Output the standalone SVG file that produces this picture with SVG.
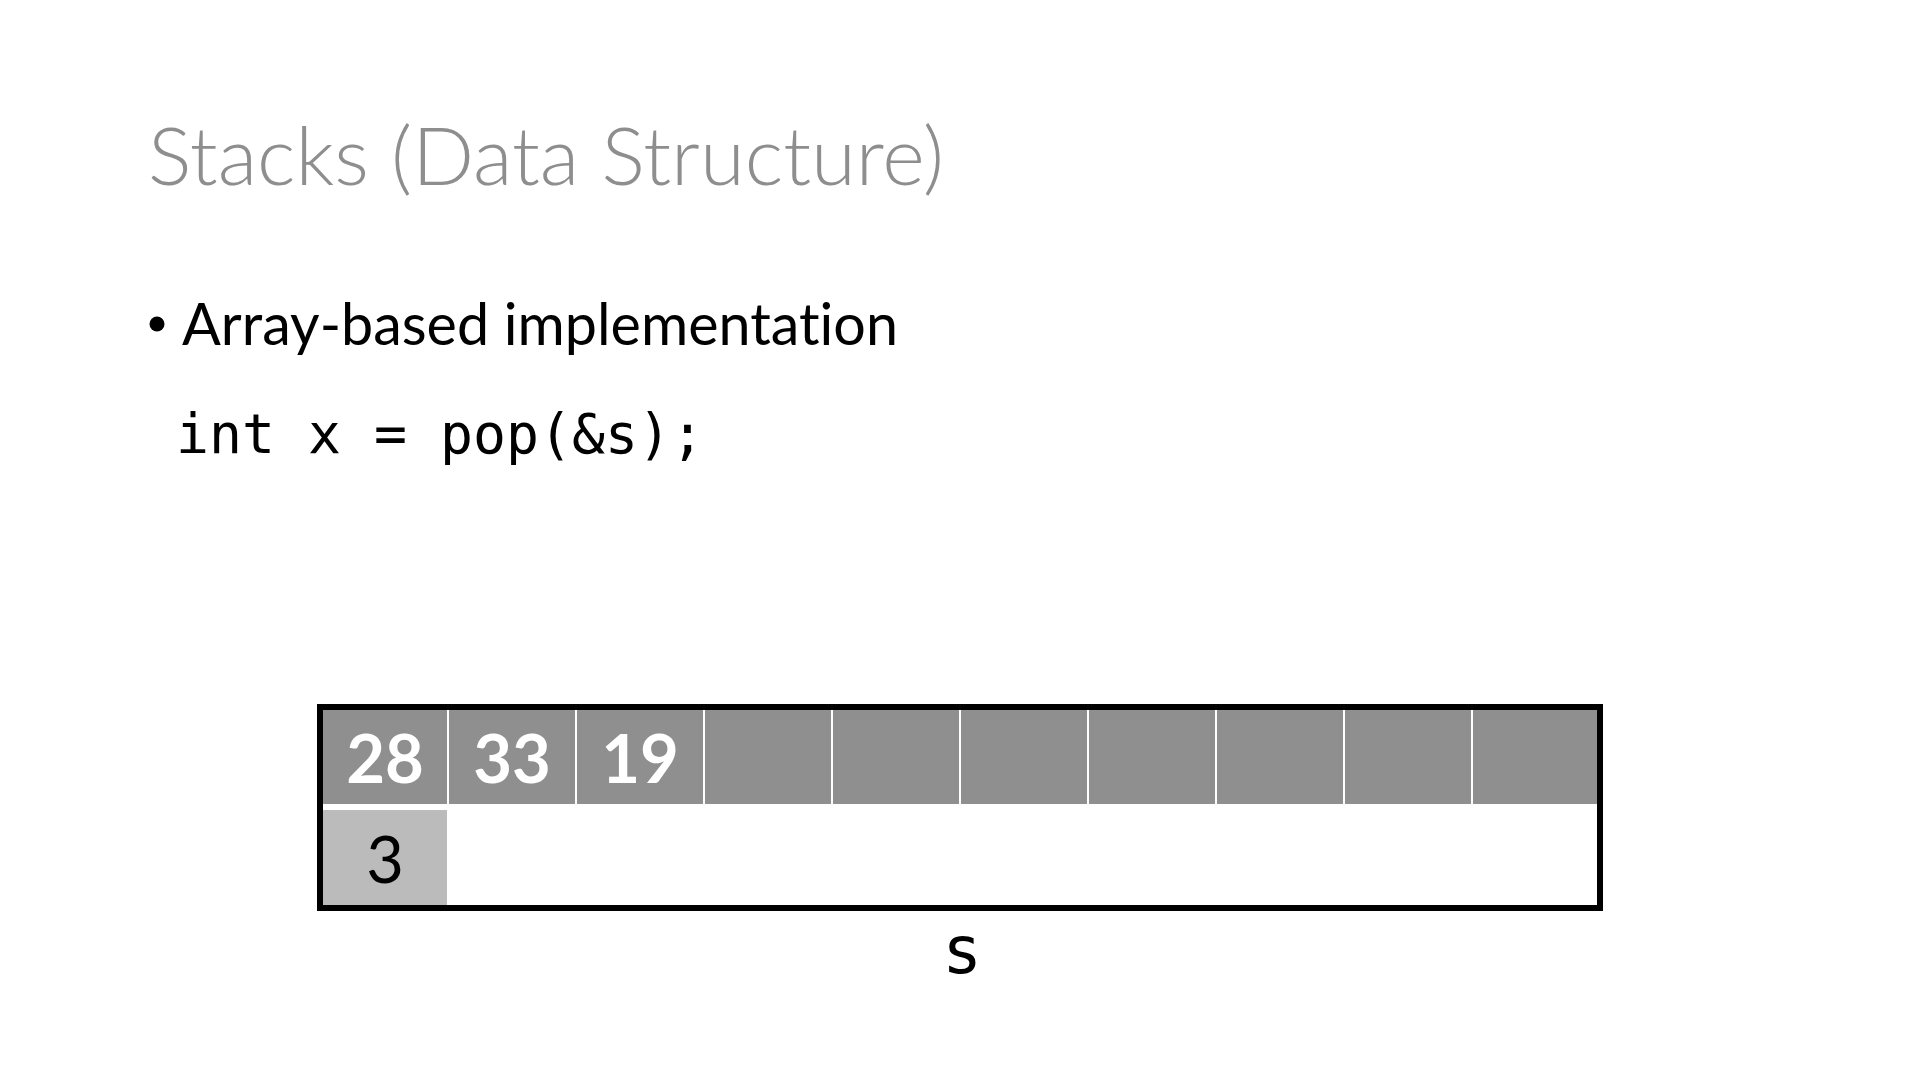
<svg xmlns="http://www.w3.org/2000/svg" width="1920" height="1080" viewBox="0 0 1920 1080">
<style>
text{font-variant-ligatures:none;font-feature-settings:"liga" 0}
.title{font-family:"Lato","Liberation Sans",sans-serif;font-weight:300;font-size:80px;fill:#8e8e8e}
.body{font-family:"Lato","Liberation Sans",sans-serif;font-size:59px;fill:#000}
.mono{font-family:"DejaVu Sans Mono","Liberation Mono",monospace;fill:#000}
.cell{fill:#8f8f8f}
.num{font-family:"Lato","Liberation Sans",sans-serif;font-weight:700;font-size:67px;fill:#fff;text-anchor:middle}
.top{fill:#bbbbbb}
.topnum{font-family:"Lato","Liberation Sans",sans-serif;font-size:65px;fill:#000;text-anchor:middle}
</style>
<rect x="0" y="0" width="1920" height="1080" fill="#fff"/>
<g id="title"><text class="title" x="148" y="185" textLength="796" lengthAdjust="spacingAndGlyphs">Stacks (Data Structure)</text></g>
<g id="bullet">
<circle cx="157" cy="324" r="7.5" fill="#000"/>
<text class="body" x="182" y="345" textLength="716" lengthAdjust="spacingAndGlyphs">Array-based implementation</text>
</g>
<g id="code"><text class="mono" x="176" y="453" font-size="55" textLength="528" lengthAdjust="spacingAndGlyphs">int x = pop(&amp;s);</text></g>
<g id="stack-s">
<rect id="s-frame" x="320" y="707" width="1280" height="201" fill="#fff" stroke="#000" stroke-width="6"/>
<g id="cell0"><rect class="cell" x="323" y="710" width="124" height="94"/><text class="num" x="385" y="783">28</text></g>
<g id="cell1"><rect class="cell" x="449" y="710" width="126" height="94"/><text class="num" x="512" y="783">33</text></g>
<g id="cell2"><rect class="cell" x="577" y="710" width="126" height="94"/><text class="num" x="640" y="783">19</text></g>
<g id="cell3"><rect class="cell" x="705" y="710" width="126" height="94"/></g>
<g id="cell4"><rect class="cell" x="833" y="710" width="126" height="94"/></g>
<g id="cell5"><rect class="cell" x="961" y="710" width="126" height="94"/></g>
<g id="cell6"><rect class="cell" x="1089" y="710" width="126" height="94"/></g>
<g id="cell7"><rect class="cell" x="1217" y="710" width="126" height="94"/></g>
<g id="cell8"><rect class="cell" x="1345" y="710" width="126" height="94"/></g>
<g id="cell9"><rect class="cell" x="1473" y="710" width="124" height="94"/></g>
<g id="top"><rect class="top" x="323" y="810" width="124" height="95"/><text class="topnum" x="385" y="883">3</text></g>
</g>
<g id="label-s"><text class="mono" x="962" y="973" font-size="66" text-anchor="middle">s</text></g>
<g id="connectors"/>
</svg>
